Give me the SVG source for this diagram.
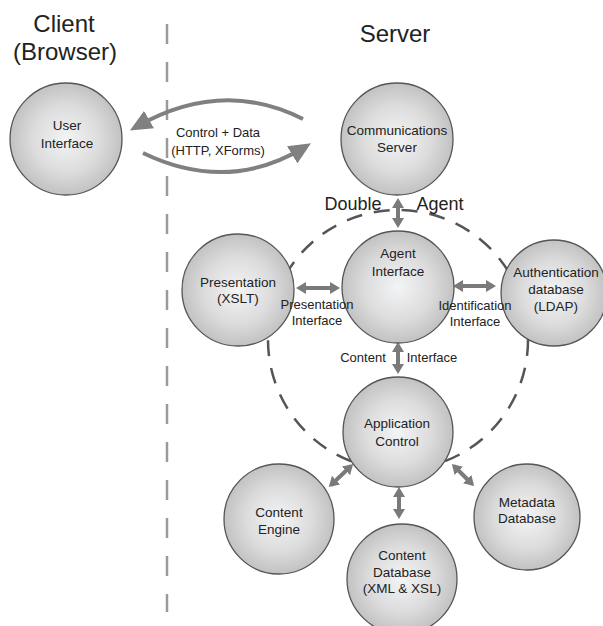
<svg xmlns="http://www.w3.org/2000/svg" width="603" height="626" viewBox="0 0 603 626">
<style>
text{font-family:"Liberation Sans",Arial,sans-serif;fill:#222;text-anchor:middle}
.t{font-size:24px}
.n{font-size:13.5px}
.s{font-size:13px}
.big{font-size:18px}
.node{fill:url(#g);stroke:#555;stroke-width:1.3}
.sa{stroke:#7a7a7a;stroke-width:4;fill:none;marker-start:url(#h);marker-end:url(#h)}
.ba{stroke:#808080;stroke-width:4;fill:none;marker-end:url(#bh)}
</style>
<defs>
<radialGradient id="g" cx="50%" cy="50%" r="50%">
<stop offset="0" stop-color="#f3f4f5"/>
<stop offset="0.6" stop-color="#dcdcdd"/>
<stop offset="1" stop-color="#c2c2c3"/>
</radialGradient>
<marker id="h" markerUnits="userSpaceOnUse" markerWidth="10" markerHeight="12" refX="7" refY="6" orient="auto-start-reverse" viewBox="0 0 10 12">
<path d="M0,0 L10,6 L0,12 z" fill="#7a7a7a"/>
</marker>
<marker id="bh" markerUnits="userSpaceOnUse" markerWidth="22" markerHeight="20" refX="15" refY="10" orient="auto" viewBox="0 0 22 20">
<path d="M0,0 L22,10 L0,20 z" fill="#808080"/>
</marker>
</defs>
<rect width="603" height="626" fill="#fff"/>
<text class="t" x="64" y="32">Client</text>
<text class="t" x="65" y="60">(Browser)</text>
<text class="t" x="395" y="42">Server</text>
<g id="boundary">
<line x1="167" y1="24" x2="167" y2="612" stroke="#9a9a9a" stroke-width="2.5" stroke-dasharray="20 18"/>
</g>
<g id="double-agent">
<circle cx="398" cy="340" r="130" fill="none" stroke="#555" stroke-width="2.5" stroke-dasharray="16 12"/>
<text class="big" x="353" y="210">Double</text>
<text class="big" x="440" y="210">Agent</text>
</g>
<g id="connectors">
<path class="ba" d="M303,119 Q222,78 136,127"/>
<path class="ba" d="M143,153 Q228,194 305,147"/>
<line class="sa" x1="398" y1="201" x2="398" y2="225"/>
<line class="sa" x1="299" y1="288" x2="337" y2="288"/>
<line class="sa" x1="456" y1="286" x2="493" y2="286"/>
<line class="sa" x1="398" y1="345" x2="398" y2="371"/>
<line class="sa" x1="351" y1="466" x2="331" y2="485"/>
<line class="sa" x1="399" y1="490" x2="399" y2="516"/>
<line class="sa" x1="454" y1="466" x2="472" y2="484"/>
<text class="s" x="218" y="137">Control + Data</text>
<text class="s" x="218" y="155">(HTTP, XForms)</text>
<text class="s" x="363" y="362">Content</text>
<text class="s" x="432" y="362">Interface</text>
</g>
<g id="user-interface">
<circle class="node" cx="66" cy="139" r="56"/>
<text class="n" x="67" y="130">User</text>
<text class="n" x="67" y="148">Interface</text>
</g>
<g id="communications-server">
<circle class="node" cx="397" cy="139" r="56"/>
<text class="n" x="397" y="135">Communications</text>
<text class="n" x="397" y="152">Server</text>
</g>
<g id="agent-interface">
<circle class="node" cx="398" cy="287" r="56"/>
<text class="n" x="398" y="258">Agent</text>
<text class="n" x="398" y="276">Interface</text>
</g>
<g id="presentation">
<circle class="node" cx="238" cy="290" r="56"/>
<text class="n" x="238" y="287">Presentation</text>
<text class="n" x="238" y="303">(XSLT)</text>
</g>
<g id="authentication">
<circle class="node" cx="554" cy="293" r="53"/>
<text class="n" x="556" y="277">Authentication</text>
<text class="n" x="556" y="294">database</text>
<text class="n" x="556" y="311">(LDAP)</text>
</g>
<g id="application-control">
<circle class="node" cx="398" cy="432" r="55"/>
<text class="n" x="397" y="428">Application</text>
<text class="n" x="397" y="446">Control</text>
</g>
<g id="content-engine">
<circle class="node" cx="279" cy="519" r="55"/>
<text class="n" x="279" y="517">Content</text>
<text class="n" x="279" y="534">Engine</text>
</g>
<g id="content-database">
<circle class="node" cx="402" cy="579" r="55"/>
<text class="n" x="402" y="560">Content</text>
<text class="n" x="402" y="577">Database</text>
<text class="n" x="402" y="593">(XML &amp; XSL)</text>
</g>
<g id="metadata-database">
<circle class="node" cx="527" cy="517" r="53"/>
<text class="n" x="527" y="507">Metadata</text>
<text class="n" x="527" y="523">Database</text>
</g>
<g id="interface-labels">
<text class="s" x="317" y="309">Presentation</text>
<text class="s" x="317" y="325">Interface</text>
<text class="s" x="475" y="310">Identification</text>
<text class="s" x="475" y="326">Interface</text>
</g>
</svg>
